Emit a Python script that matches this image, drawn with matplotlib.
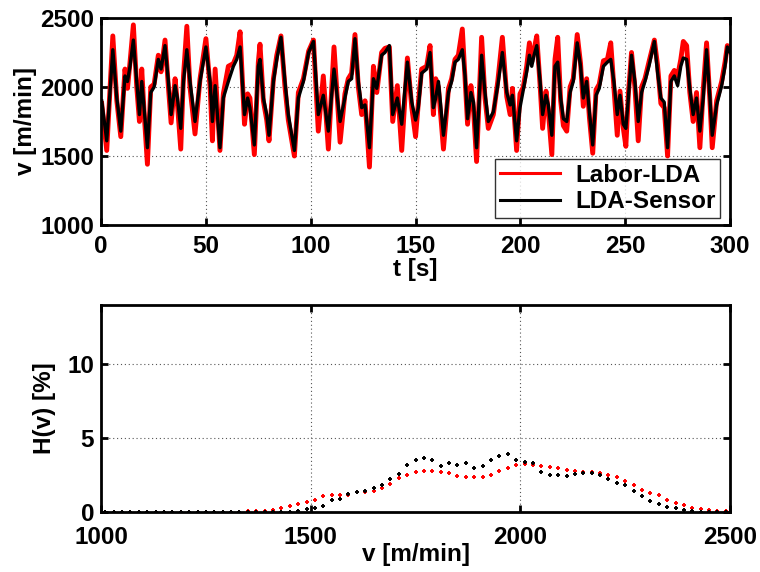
import numpy as np
import matplotlib
matplotlib.use("Agg")
import matplotlib.pyplot as plt

plt.rcParams['font.family'] = ['Liberation Sans', 'DejaVu Sans']
plt.rcParams['font.weight'] = 'bold'

# time series
t_s = [0.3, 2.7, 5.6, 7.5, 9.4, 11.4, 12.6, 13.8, 15.4, 17.0, 18.3, 19.4, 20.5, 22.1, 23.7,
       25.3, 27.3, 28.6, 30.5, 32.1, 33.4, 35.3, 36.4, 38.0, 39.3, 40.9, 42.4, 44.8, 47.2,
       50.0, 52.0, 53.1, 54.4, 56.7, 58.3, 60.7, 63.1, 64.7, 66.3, 68.4, 69.9, 71.0, 73.1,
       75.0, 75.8, 77.4, 79.0, 80.1, 82.2, 83.8, 85.8, 87.7, 89.3, 92.2, 94.1, 96.5,
       99.0, 101.3, 103.6, 106.0, 108.4, 111.1, 114.0, 116.3, 117.9, 119.5, 121.1, 122.7,
       124.3, 125.9, 128.0, 129.9, 131.5, 133.8, 135.4, 137.5, 139.1, 141.3, 143.4, 146.1, 148.2,
       150.0, 151.3, 152.9, 155.3, 156.9, 158.5, 159.6, 160.9, 163.3, 165.7, 167.2, 168.8,
       170.4, 172.3, 173.6, 174.8, 176.4, 177.6, 179.1, 181.5, 183.1, 184.7, 187.1, 189.2,
       191.4, 193.5, 195.1, 196.2, 198.2,
       199.8, 201.4, 203.0, 204.3, 205.4, 206.5, 207.8, 209.4, 210.6, 212.2, 213.3, 215.0,
       216.5, 217.8, 219.2, 220.5, 222.1, 223.7, 225.2, 227.1, 228.7, 230.0, 231.6, 232.9,
       234.5, 236.1, 237.6, 239.6, 241.5, 243.1, 244.6, 246.2, 247.5, 249.1,
       250.3, 251.5, 253.0, 254.6, 256.2, 257.8, 259.4, 261.3, 263.9, 265.4, 267.0, 268.6,
       270.2, 271.8, 273.4, 275.0, 276.5, 277.7, 279.3, 280.8, 282.4, 284.0, 285.6, 287.2,
       288.8, 290.4, 291.5, 293.6, 296.0, 297.6, 298.7, 300.0]

lda_sensor = [1900, 1610, 2270, 1920, 1680, 2080, 2040, 2150, 2340, 2040, 1800, 2040, 1850, 1560, 1960,
              2000, 2200, 2130, 2300, 2040, 1800, 2010, 1920, 1700, 2040, 2270, 2040, 1750, 2040,
              2290, 2040, 1750, 2010, 1560, 1920, 2040, 2150, 2200, 2290, 1800, 1920, 1850, 1580,
              2150, 2200, 1920, 1800, 1650, 2040, 2200, 2360, 2040, 1800, 1540, 1920, 2040,
              2250, 2330, 1800, 1940, 1680, 2130, 1750, 1920, 2040, 2060, 2350, 2040,
              1850, 1870, 1560, 2060, 1990, 2230, 2250, 2300, 1800, 1920, 1730, 2180, 1890,
              1760, 1850, 2100, 2130, 2250, 1850, 1920, 2040, 1650, 1960, 2040, 2180,
              2200, 2270, 2080, 1770, 1960, 1890, 1560, 2230, 1960, 1750, 1820, 2010,
              2250, 1960, 1870, 1940, 1610,
              1850, 1980, 2110, 2230, 2150, 2230, 2300, 2040, 1800, 1940, 1870, 1650,
              2150, 2180, 1920, 1770, 1750, 1960, 2040, 2320, 2150, 1920, 2040, 1820,
              1580, 1940, 1990, 2150, 2180, 2200, 2040, 1800, 1940, 1730,
              1700, 1920, 2230, 2040, 1750, 1960, 2040, 2150, 2330, 2110, 1920, 1890,
              1560, 2040, 2080, 2010, 2150, 2210, 2200, 1990, 1800, 1920, 1680, 1920,
              2270, 1920, 1650, 1870, 2010, 2150, 2290, 2250]

labor_lda = [1880, 1540, 2370, 1900, 1640, 2130, 1990, 2180, 2450, 2000, 1750, 2130, 1820, 1440, 2000,
             2020, 2230, 2110, 2340, 2000, 1740, 2060, 1880, 1550, 2080, 2440, 2000, 1660, 2060,
             2350, 2000, 1610, 2130, 1540, 1950, 2150, 2170, 2230, 2400, 1730, 1950, 1920, 1510,
             2180, 2310, 1900, 1760, 1610, 2060, 2230, 2370, 2000, 1760, 1500, 1960, 2060,
             2260, 2340, 1680, 2080, 1550, 2290, 1600, 1950, 2060, 2100, 2380, 2000,
             1800, 1900, 1420, 2150, 1960, 2250, 2280, 2290, 1750, 2010, 1540, 2210, 1850,
             1640, 1880, 2130, 2150, 2300, 1800, 2060, 2000, 1550, 1990, 2060, 2200,
             2230, 2420, 2060, 1730, 2010, 1850, 1460, 2360, 1920, 1700, 1800, 2040,
             2360, 1930, 1800, 1990, 1540,
             1950, 2000, 2150, 2320, 2180, 2270, 2370, 2010, 1700, 1970, 1830, 1510,
             2200, 2360, 1900, 1720, 1680, 2000, 2060, 2380, 2170, 1860, 2060, 1780,
             1520, 1980, 2020, 2190, 2200, 2320, 2000, 1650, 1970, 1700,
             1570, 1950, 2250, 2000, 1610, 2000, 2060, 2180, 2340, 2160, 1880, 1850,
             1500, 2080, 2120, 2080, 2200, 2330, 2300, 1960, 1750, 1960, 1560, 1980,
             2320, 1900, 1560, 1900, 2040, 2180, 2300, 2280]

# histogram H(v) in %, bins every 20 m/min
v_bins = list(range(1010, 2500, 20))
h_labor = [0, 0, 0, 0, 0, 0, 0, 0, 0, 0, 0, 0, 0.03, 0.03, 0.03, 0.03, 0.03, 0.04,
           0.05, 0.09, 0.15, 0.27, 0.4, 0.55, 0.7, 0.8, 1.05, 1.15, 1.15, 1.15, 1.35, 1.35,
           1.4, 1.6, 1.9, 2.3, 2.5, 2.7, 2.8, 2.8, 2.7, 2.63, 2.45, 2.38, 2.38, 2.38, 2.5,
           2.8, 2.97, 3.15, 3.24, 3.2, 3.12, 3.03, 2.97, 2.83, 2.8, 2.7, 2.7, 2.63, 2.5,
           2.34, 2.1, 1.84, 1.5, 1.28, 1.12, 0.83, 0.6, 0.45, 0.3, 0.22, 0.16, 0.09, 0.05]
h_sensor = [0, 0, 0, 0, 0, 0, 0, 0, 0, 0, 0, 0, 0, 0, 0, 0, 0, 0, 0, 0, 0, 0, 0, 0.1,
            0.2, 0.3, 0.4, 0.8, 0.9, 1.2, 1.35, 1.4, 1.6, 1.85, 2.25, 2.6, 3.2, 3.5, 3.64,
            3.5, 3.1, 3.3, 3.2, 3.3, 3.0, 3.1, 3.5, 3.8, 3.9, 3.5, 3.4, 3.3, 2.7, 2.5, 2.5,
            2.45, 2.6, 2.63, 2.63, 2.5, 2.2, 1.96, 1.8, 1.4, 1.1, 0.75, 0.55, 0.35, 0.25,
            0.15, 0.05, 0, 0, 0, 0]

fig = plt.figure(figsize=(7.6, 5.72), dpi=100)
ax1 = fig.add_axes([0.133, 0.6066, 0.8276, 0.362])
ax2 = fig.add_axes([0.133, 0.1049, 0.8276, 0.362])

fs = 17.5

ax1.plot(t_s, labor_lda, color='red', lw=3.5, label='Labor-LDA')
ax1.plot(t_s, lda_sensor, color='black', lw=2.4, label='LDA-Sensor')
ax1.set_xlim(0, 300)
ax1.set_ylim(1000, 2500)
ax1.set_xticks(range(0, 301, 50))
ax1.set_yticks(range(1000, 2501, 500))
ax1.set_xlabel('t [s]', fontsize=fs, fontweight='bold', labelpad=0)
ax1.set_ylabel('v [m/min]', fontsize=fs, fontweight='bold', labelpad=2)
leg = ax1.legend(loc='lower right', bbox_to_anchor=(0.992, 0.01), fontsize=fs,
                 frameon=True, fancybox=False, edgecolor='black', handlelength=2.5,
                 borderpad=0.2, labelspacing=0.15, handletextpad=0.6, borderaxespad=0.2)
leg.get_frame().set_linewidth(1.0)
for line in leg.get_lines():
    line.set_linewidth(2.2)

ax2.plot(v_bins, h_labor, '+', color='red', ms=3.5, mew=1.4)
ax2.plot(v_bins, h_sensor, '+', color='black', ms=3.5, mew=1.4)
ax2.set_xlim(1000, 2500)
ax2.set_ylim(0, 14)
ax2.set_xticks(range(1000, 2501, 500))
ax2.set_yticks([0, 5, 10])
ax2.set_xlabel('v [m/min]', fontsize=fs, fontweight='bold', labelpad=-4)
ax2.set_ylabel('H(v) [%]', fontsize=fs, fontweight='bold', labelpad=8)

for ax in (ax1, ax2):
    ax.grid(True, linestyle=(0, (1, 2.5)), color='#555555', lw=0.8)
    ax.tick_params(direction='in', length=5, width=2, top=True, right=True,
                   labelsize=fs)
    ax.tick_params(axis='y', pad=5)
    for lab in ax.get_xticklabels() + ax.get_yticklabels():
        lab.set_fontweight('bold')
    for sp in ax.spines.values():
        sp.set_linewidth(2.0)
ax1.tick_params(axis='x', pad=7)
ax2.tick_params(axis='x', pad=10)

fig.savefig('out.png', dpi=100)
